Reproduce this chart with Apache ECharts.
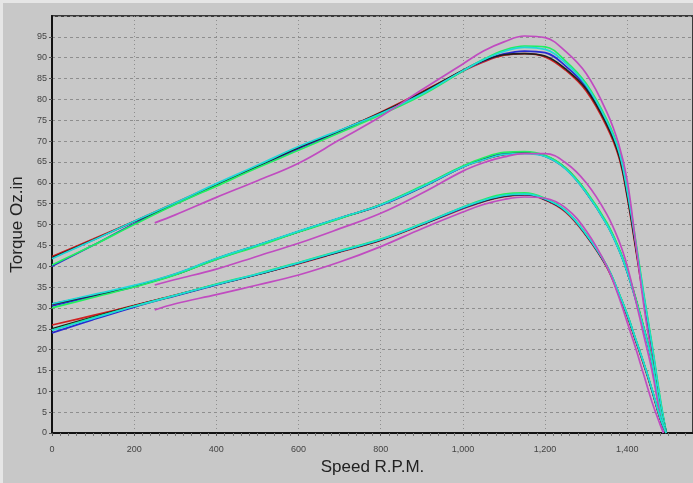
<!DOCTYPE html>
<html>
<head>
<meta charset="utf-8">
<script src="https://cdn.jsdelivr.net/npm/echarts@6/dist/echarts.min.js"></script>
<style>
  html, body { margin: 0; padding: 0; background: #c8c8c8; }
  #main { width: 690px; height: 480px; border-left: 3px solid #e6e6e6; border-top: 3px solid #e6e6e6; background: #c8c8c8; }
</style>
</head>
<body>
<div id="main"></div>
<script>
// speed points (rpm)
var xMain = [0,100,200,300,400,500,600,700,800,900,1000,1050,1100,1150,1200,1250,1300,1350,1380,1400,1420,1440,1460,1480,1495];
var xMag  = [250,300,400,500,600,700,800,900,1000,1050,1100,1150,1200,1250,1300,1350,1380,1400,1420,1440,1460,1480,1488];

// upper curves
var topRed   = [42.3,46.5,50.8,55.2,59.6,64.0,68.3,72.4,76.9,81.8,86.8,89.0,90.6,91.0,90.2,87.0,82.0,73.5,66.0,56.5,44.5,32.0,20.0,7.0,0];
var topBlue  = [40.0,45.0,50.2,54.9,59.4,63.9,68.2,72.3,76.7,81.4,86.8,89.2,90.9,91.6,91.2,88.0,83.0,74.5,67.0,57.5,45.5,32.8,20.8,7.8,0];
var topBlack = [42.0,46.3,50.7,55.0,59.5,64.0,68.5,72.5,76.8,81.6,87.0,89.3,90.7,91.0,90.4,87.3,82.5,74.0,66.5,57.0,45.0,32.5,20.5,7.5,0];
var topGreen = [40.3,45.0,50.0,54.8,59.2,63.6,67.8,72.0,76.3,81.0,86.8,89.6,91.8,92.8,92.6,89.2,83.8,75.2,67.8,58.5,46.5,33.5,21.5,8.5,0];
var topCyan  = [41.8,46.2,50.8,55.2,59.8,64.2,68.7,72.6,76.6,81.3,86.9,89.5,91.5,92.5,92.0,88.7,83.4,74.8,67.4,58.0,46.0,33.0,21.0,8.0,0];
var topMag   = [50.4,52.3,56.5,60.5,64.7,70.3,75.9,82.3,88.5,91.6,93.8,95.2,94.8,91.5,86.2,77.0,69.0,60.5,46.0,30.8,18.0,4.0,0];

// middle curves
var midRed   = [30.8,33.0,35.2,38.1,41.8,45.0,48.3,51.5,54.7,59.0,63.8,65.5,66.8,67.2,66.4,63.4,57.7,50.1,43.9,38.6,32.2,25.1,17.1,5.7,0];
var midBlue  = [30.5,32.8,35.1,38.0,41.7,45.0,48.3,51.5,54.6,58.9,63.8,65.7,67.0,67.2,66.4,63.4,57.7,50.2,44.0,38.7,32.3,25.2,17.2,5.8,0];
var midBlack = [30.9,33.0,35.2,38.0,41.8,45.0,48.3,51.5,54.7,59.0,63.9,65.6,66.8,67.2,66.5,63.5,57.8,50.2,44.0,38.7,32.3,25.2,17.2,5.8,0];
var midGreen = [30.0,32.5,35.0,37.9,41.6,44.8,48.2,51.4,54.8,59.2,64.0,66.0,67.3,67.5,66.6,63.6,58.0,50.5,44.3,39.0,32.6,25.5,17.5,6.0,0];
var midCyan  = [31.0,33.2,35.4,38.2,41.9,45.1,48.4,51.6,54.7,59.0,63.8,65.5,66.8,67.0,66.3,63.3,57.6,50.0,43.8,38.5,32.0,25.0,17.0,5.6,0];
var midMag   = [35.5,36.8,39.3,42.4,45.5,49.0,52.7,57.5,62.8,64.8,66.2,67.0,67.0,64.8,60.0,52.5,46.0,40.0,32.0,23.5,15.0,4.0,0];

// lower curves
var lowRed   = [25.9,28.2,30.6,33.1,35.6,38.0,40.6,43.4,46.2,49.9,53.8,55.5,56.7,57.1,55.9,53.0,47.3,39.8,33.0,28.0,22.2,16.4,10.2,3.4,0];
var lowBlue  = [24.0,27.2,30.2,32.9,35.5,38.0,40.7,43.5,46.3,50.0,53.9,55.6,56.8,57.2,56.0,53.2,47.5,40.0,33.3,28.3,22.5,16.7,10.4,3.6,0];
var lowBlack = [25.0,27.8,30.5,33.0,35.6,38.0,40.7,43.5,46.3,50.0,54.0,55.6,56.8,57.2,56.0,53.2,47.5,40.0,33.3,28.3,22.5,16.7,10.4,3.6,0];
var lowGreen = [24.7,27.6,30.4,33.0,35.7,38.2,40.9,43.7,46.5,50.2,54.2,56.0,57.3,57.6,56.3,53.4,47.7,40.2,33.5,28.5,22.7,16.9,10.6,3.8,0];
var lowCyan  = [24.6,27.5,30.4,33.0,35.6,38.1,40.8,43.6,46.4,50.1,54.1,55.8,57.0,57.3,56.1,53.3,47.6,40.1,33.4,28.4,22.6,16.8,10.5,3.7,0];
var lowMag   = [29.5,31.0,33.2,35.5,37.9,41.0,44.7,49.0,53.0,54.8,56.0,56.6,56.3,54.0,48.5,40.0,32.5,26.5,20.5,14.0,7.5,2.0,0];

var colors = {red:'#d02020', blue:'#2a2ad0', black:'#202020', green:'#20f060', cyan:'#20d8d8', mag:'#c04cc0'};

function line(xs, ys, color) {
  return {
    type: 'line',
    data: xs.map(function(x, i){ return [x, ys[i]]; }),
    showSymbol: false,
    smooth: 0.4,
    lineStyle: {color: color, width: 1.7},
    silent: true,
    animation: false
  };
}

var series = [
  line(xMain, topRed, colors.red), line(xMain, topBlue, colors.blue), line(xMain, topBlack, colors.black),
  line(xMain, topGreen, colors.green), line(xMain, topCyan, colors.cyan), line(xMag, topMag, colors.mag),
  line(xMain, midRed, colors.red), line(xMain, midBlue, colors.blue), line(xMain, midBlack, colors.black),
  line(xMain, midGreen, colors.green), line(xMain, midCyan, colors.cyan), line(xMag, midMag, colors.mag),
  line(xMain, lowRed, colors.red), line(xMain, lowBlue, colors.blue), line(xMain, lowBlack, colors.black),
  line(xMain, lowGreen, colors.green), line(xMain, lowCyan, colors.cyan), line(xMag, lowMag, colors.mag)
];

var myChart = echarts.init(document.getElementById('main'));
var option = {
  backgroundColor: '#c8c8c8',
  animation: false,
  grid: {
    left: 49, right: 0, top: 13, bottom: 50,
    outerBoundsMode: 'none',
    show: true, borderColor: '#3a3a3a', borderWidth: 2
  },
  xAxis: {
    type: 'value',
    min: 0, max: 1560, interval: 200,
    name: 'Speed R.P.M.',
    nameLocation: 'middle',
    nameGap: 22,
    nameTextStyle: {fontFamily: 'Liberation Sans', fontSize: 17, color: '#222'},
    axisLine: {lineStyle: {color: '#111', width: 2}},
    axisTick: {show: true, length: 3, lineStyle: {color: '#555'}},
    minorTick: {show: true, splitNumber: 10, length: 3, lineStyle: {color: '#777'}},
    axisLabel: {
      fontFamily: 'Liberation Sans', fontSize: 9, color: '#444', margin: 12,
      showMaxLabel: false,
      formatter: function(v){ return v.toLocaleString('en-US'); }
    },
    splitLine: {show: true, lineStyle: {color: '#8e8e8e', type: [1, 3], width: 1}}
  },
  yAxis: {
    type: 'value',
    min: 0, max: 100, interval: 5,
    name: 'Torque Oz.in',
    nameLocation: 'middle',
    nameGap: 24,
    nameTextStyle: {fontFamily: 'Liberation Sans', fontSize: 17, color: '#222'},
    axisLine: {show: true, lineStyle: {color: '#111', width: 2}},
    axisTick: {show: true, length: 3, lineStyle: {color: '#555'}},
    axisLabel: {
      fontFamily: 'Liberation Sans', fontSize: 9, color: '#444', margin: 5,
      showMaxLabel: false
    },
    splitLine: {show: true, lineStyle: {color: '#8e8e8e', type: [3, 3], width: 1}}
  },
  series: series
};
myChart.setOption(option);
</script>
</body>
</html>
